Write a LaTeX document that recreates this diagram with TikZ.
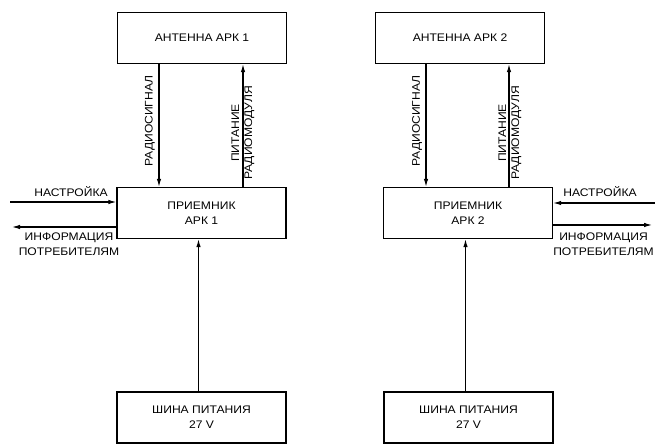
\documentclass[tikz,border=0pt]{standalone}
\usepackage{fontspec}
\setmainfont{Liberation Sans}[FakeStretch=1.1]
\usepackage{tikz}
\usetikzlibrary{arrows.meta, positioning}

\begin{document}
\begin{tikzpicture}[x=1pt, y=1pt,
        font=\fontsize{11}{15}\selectfont,
        block/.style={draw, 
        line width=1.4pt, 
        minimum width=169pt, 
        minimum height=51pt,
        inner sep=0pt,
        align=center},
        lbl/.style={inner sep=0pt, align=center},
        sig/.style={line width=1.1pt, ->}, >={Latex[length=8pt, width=4.5pt]}]
        \useasboundingbox (0,0) rectangle (655,444);
        % left channel
        \node[block] at (202,406) (ant1) {АНТЕННА АРК 1};
        \node[block] at (201.5,231) (rcv1) {ПРИЕМНИК\\АРК 1};
        \node[block] at (201.5,26.5) (bus1) {ШИНА ПИТАНИЯ\\27 V};
        \coordinate (set1) at (10,242);
        \coordinate (out1) at (12,217);
        \draw[sig] ([xshift=-43pt]ant1.south) -- ([xshift=-43pt]ant1.south |- rcv1.north);
        \draw[sig] ([xshift=41pt]ant1.south |- rcv1.north) -- ([xshift=41pt]ant1.south);
        \draw[sig] ([xshift=-3pt]bus1.north) -- ([xshift=-3pt]bus1.north |- rcv1.south);
        \draw[sig] (set1) -- (set1 -| rcv1.west);
        \draw[sig] (out1 -| rcv1.west) -- (out1);
        \node[lbl, rotate=90] at (150,323) (rs1) {РАДИОСИГНАЛ};
        \node[lbl, rotate=90, font=\fontsize{11}{13}\selectfont] at (243,311) (pw1) {ПИТАНИЕ\\РАДИОМОДУЛЯ};
        \node[lbl] at (71,252) (tn1) {НАСТРОЙКА};
        \node[lbl] at (69,199.5) (inf1) {ИНФОРМАЦИЯ\\ПОТРЕБИТЕЛЯМ};
        % right channel
        \node[block] at (460,406) (ant2) {АНТЕННА АРК 2};
        \node[block] at (468,231) (rcv2) {ПРИЕМНИК\\АРК 2};
        \node[block] at (468.5,26.5) (bus2) {ШИНА ПИТАНИЯ\\27 V};
        \coordinate (set2) at (655,241);
        \coordinate (out2) at (652,219);
        \draw[sig] ([xshift=-34pt]ant2.south) -- ([xshift=-34pt]ant2.south |- rcv2.north);
        \draw[sig] ([xshift=49pt]ant2.south |- rcv2.north) -- ([xshift=49pt]ant2.south);
        \draw[sig] ([xshift=-3pt]bus2.north) -- ([xshift=-3pt]bus2.north |- rcv2.south);
        \draw[sig] (set2) -- (set2 -| rcv2.east);
        \draw[sig] (out2 -| rcv2.east) -- (out2);
        \node[lbl, rotate=90] at (417,323) (rs2) {РАДИОСИГНАЛ};
        \node[lbl, rotate=90, font=\fontsize{11}{13}\selectfont] at (510,311) (pw2) {ПИТАНИЕ\\РАДИОМОДУЛЯ};
        \node[lbl] at (600,252) (tn2) {НАСТРОЙКА};
        \node[lbl] at (603.5,199.5) (inf2) {ИНФОРМАЦИЯ\\ПОТРЕБИТЕЛЯМ};
    \end{tikzpicture}
\end{document}
